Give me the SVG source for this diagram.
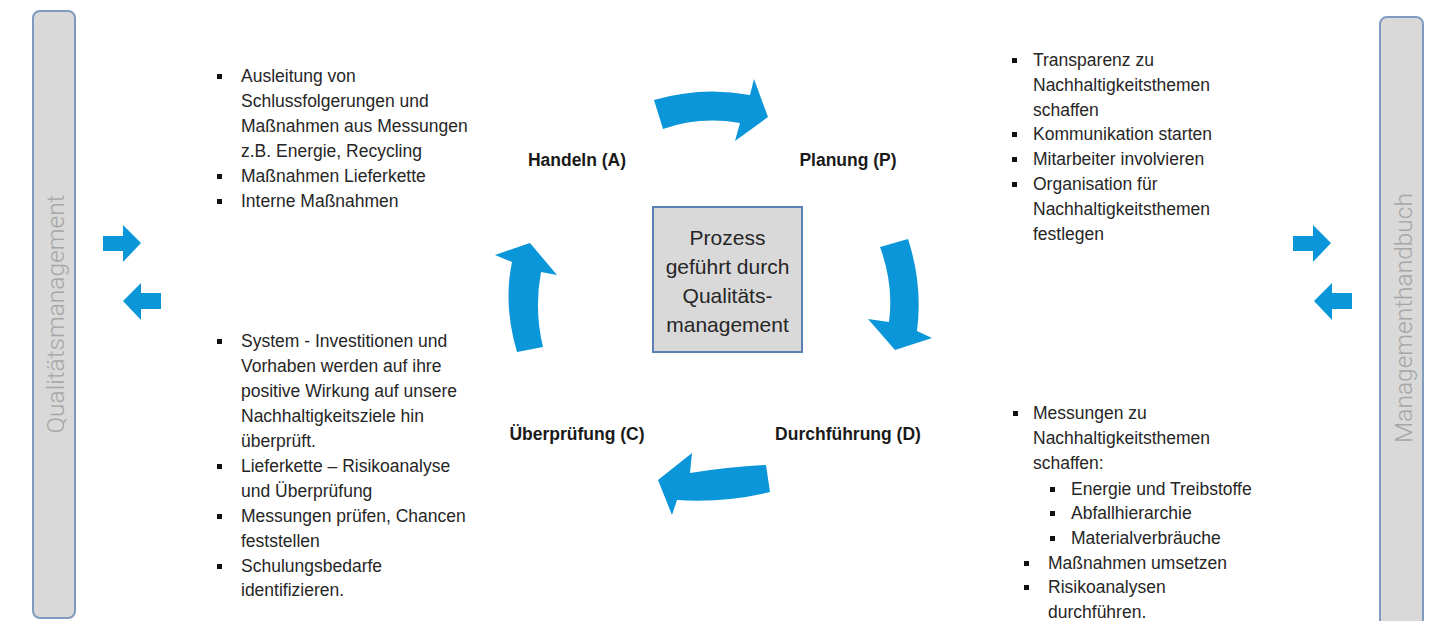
<svg xmlns="http://www.w3.org/2000/svg" width="1436" height="621" viewBox="0 0 1436 621">
<style>
.bar{fill:#d9d9d9;stroke:#7f9cc0;stroke-width:2}
.bartxt{font-family:Roboto,"Liberation Sans",sans-serif;font-weight:300;font-size:24.5px;fill:#a6a6a6;text-anchor:middle;dominant-baseline:central}
.box{fill:#d9d9d9;stroke:#5b80b4;stroke-width:2}
.boxtxt{font-family:"Liberation Sans",Arial,sans-serif;font-size:21px;fill:#262626;text-anchor:middle}
.lbl{font-family:"Liberation Sans",Arial,sans-serif;font-size:17.5px;font-weight:bold;fill:#1a1a1a;text-anchor:middle}
.t{font-family:"Liberation Sans",Arial,sans-serif;font-size:17.5px;fill:#262626}
.arr{fill:#0a96d8}
.b{fill:#111}
</style>
<defs>
<rect id="bul" class="b" x="0" y="0" width="5" height="5"/>
</defs>
<rect width="1436" height="621" fill="#ffffff"/>

<g id="qualitaetsmanagement">
<rect class="bar" x="33" y="11" width="42" height="607" rx="7"/>
<text class="bartxt" transform="translate(55,314) rotate(-90)">Qualitätsmanagement</text>
</g>

<g id="managementhandbuch">
<rect class="bar" x="1380" y="17" width="43" height="612" rx="7"/>
<text class="bartxt" transform="translate(1403,318) rotate(-90)">Managementhandbuch</text>
</g>

<g id="prozess">
<rect class="box" x="653" y="207" width="149" height="145"/>
<text class="boxtxt" x="727.5" y="245">Prozess</text>
<text class="boxtxt" x="727.5" y="274">geführt durch</text>
<text class="boxtxt" x="727.5" y="303">Qualitäts-</text>
<text class="boxtxt" x="727.5" y="332">management</text>
</g>

<g id="handeln"><text class="lbl" x="577" y="166">Handeln (A)</text></g>
<g id="planung"><text class="lbl" x="848" y="166">Planung (P)</text></g>
<g id="ueberpruefung"><text class="lbl" x="577" y="440">Überprüfung (C)</text></g>
<g id="durchfuehrung"><text class="lbl" x="848" y="440">Durchführung (D)</text></g>

<g id="connectors">
<path class="arr" d="M654,100 Q702,86 750,95 L754,79 L768,117 L735,141 L740,123 Q700,116 663,129 Z"/>
<path class="arr" d="M880,247 L908,239 Q923,285 917,331 L932,338 L895,350 L868,319 L889,322 Q894,285 880,247 Z"/>
<path class="arr" d="M766,465 Q728,467 690,473 L692,453 L658,480 L672,515 L677,500 Q725,503 770,492 Z"/>
<path class="arr" d="M517,352 Q503,305 512,262 L495,255 L530,243 L557,275 L541,272 Q534,310 543,347 Z"/>
<path class="arr" d="M103,236 H123 V225 L141,243 L123,262 V251 H103 Z"/>
<path class="arr" d="M161,293 H141 V283 L123,301 L141,320 V309 H161 Z"/>
<path class="arr" d="M1293,236 H1313 V225 L1331,243 L1313,262 V251 H1293 Z"/>
<path class="arr" d="M1352,293 H1332 V283 L1314,301 L1332,320 V309 H1352 Z"/>
</g>

<g id="text-handeln">
<use href="#bul" x="217" y="74"/>
<text class="t" x="241" y="82">Ausleitung von</text>
<text class="t" x="241" y="107">Schlussfolgerungen und</text>
<text class="t" x="241" y="132">Maßnahmen aus Messungen</text>
<text class="t" x="241" y="157">z.B. Energie, Recycling</text>
<use href="#bul" x="217" y="174"/>
<text class="t" x="241" y="182">Maßnahmen Lieferkette</text>
<use href="#bul" x="217" y="199"/>
<text class="t" x="241" y="207">Interne Maßnahmen</text>
</g>

<g id="text-planung">
<use href="#bul" x="1012" y="58"/>
<text class="t" x="1033" y="66">Transparenz zu</text>
<text class="t" x="1033" y="91">Nachhaltigkeitsthemen</text>
<text class="t" x="1033" y="116">schaffen</text>
<use href="#bul" x="1012" y="132"/>
<text class="t" x="1033" y="140">Kommunikation starten</text>
<use href="#bul" x="1012" y="157"/>
<text class="t" x="1033" y="165">Mitarbeiter involvieren</text>
<use href="#bul" x="1012" y="182"/>
<text class="t" x="1033" y="190">Organisation für</text>
<text class="t" x="1033" y="215">Nachhaltigkeitsthemen</text>
<text class="t" x="1033" y="240">festlegen</text>
</g>

<g id="text-ueberpruefung">
<use href="#bul" x="217" y="339"/>
<text class="t" x="241" y="347">System - Investitionen und</text>
<text class="t" x="241" y="372">Vorhaben werden auf ihre</text>
<text class="t" x="241" y="397">positive Wirkung auf unsere</text>
<text class="t" x="241" y="422">Nachhaltigkeitsziele hin</text>
<text class="t" x="241" y="447">überprüft.</text>
<use href="#bul" x="217" y="464"/>
<text class="t" x="241" y="472">Lieferkette – Risikoanalyse</text>
<text class="t" x="241" y="497">und Überprüfung</text>
<use href="#bul" x="217" y="514"/>
<text class="t" x="241" y="522">Messungen prüfen, Chancen</text>
<text class="t" x="241" y="547">feststellen</text>
<use href="#bul" x="217" y="564"/>
<text class="t" x="241" y="572">Schulungsbedarfe</text>
<text class="t" x="241" y="596">identifizieren.</text>
</g>

<g id="text-durchfuehrung">
<use href="#bul" x="1013" y="411"/>
<text class="t" x="1033" y="419">Messungen zu</text>
<text class="t" x="1033" y="444">Nachhaltigkeitsthemen</text>
<text class="t" x="1033" y="469">schaffen:</text>
<use href="#bul" x="1050" y="487"/>
<text class="t" x="1071" y="495">Energie und Treibstoffe</text>
<use href="#bul" x="1050" y="511"/>
<text class="t" x="1071" y="519">Abfallhierarchie</text>
<use href="#bul" x="1050" y="536"/>
<text class="t" x="1071" y="544">Materialverbräuche</text>
<use href="#bul" x="1024" y="561"/>
<text class="t" x="1048" y="569">Maßnahmen umsetzen</text>
<use href="#bul" x="1024" y="585"/>
<text class="t" x="1048" y="593">Risikoanalysen</text>
<text class="t" x="1048" y="618">durchführen.</text>
</g>
</svg>
